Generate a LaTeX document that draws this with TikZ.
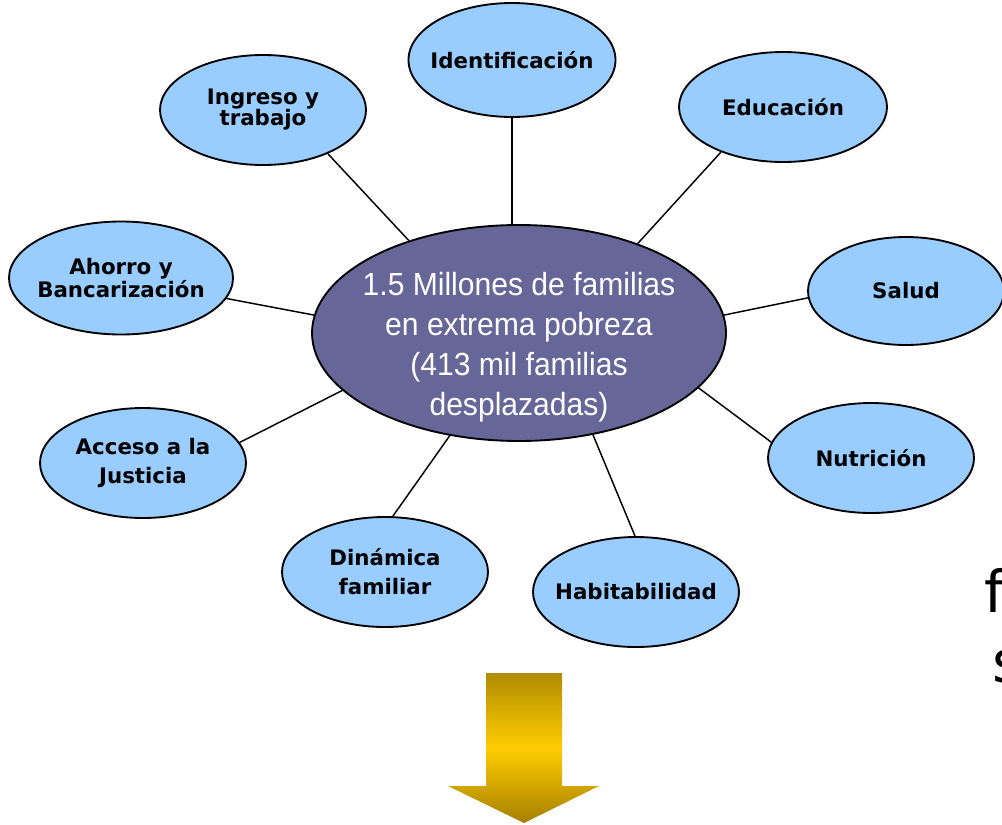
\documentclass[tikz,border=0pt]{standalone}
\usepackage{fontspec}
\usetikzlibrary{shapes.geometric}
\newfontfamily\labelfont{DejaVu Sans}
\newfontfamily\centerfont[FakeStretch=0.94]{Liberation Sans}
\definecolor{satblue}{RGB}{153,204,255}
\definecolor{hubviolet}{RGB}{102,102,153}
\definecolor{golddark}{RGB}{176,140,0}
\definecolor{goldlight}{RGB}{255,204,0}
\definecolor{goldlow}{RGB}{166,128,0}
\tikzset{
  sat/.style={ellipse, draw=black, line width=1.4pt, fill=satblue,
    inner xsep=-30pt, inner ysep=0pt, align=center,
    font=\labelfont\bfseries\fontsize{16}{15.75}\selectfont},
  satwide/.style={sat, font=\labelfont\bfseries\fontsize{16}{21.75}\selectfont},
  hub/.style={ellipse, draw=black, line width=1.4pt, fill=hubviolet,
    inner sep=0pt, minimum width=310.5pt, minimum height=162pt},
  hubtext/.style={align=center, text=white, inner sep=0pt,
    font=\centerfont\fontsize{24}{30}\selectfont},
  link/.style={draw=black, line width=1.1pt},
  bigletter/.style={anchor=base west, inner sep=0pt,
    font=\labelfont\fontsize{43.5}{52}\selectfont}
}
\begin{document}
\begin{tikzpicture}[x=0.75pt,y=-0.75pt]
\useasboundingbox[fill=white] (0,0) rectangle (1002,824);

\node[hub] (c) at (519,333) {};
\node[hubtext] (ct) at (519,347) {1.5 Millones de familias\\en extrema pobreza\\(413 mil familias\\desplazadas)};

\node[sat, minimum width=155.25pt, minimum height=85.5pt] (ident) at (512,60) {Identificación};
\node[sat, minimum width=154.5pt, minimum height=82.5pt] (ing) at (263,110) {Ingreso y\\trabajo};
\node[sat, minimum width=156pt, minimum height=82.5pt] (edu) at (783,107) {Educación};
\node[sat, minimum width=168pt, minimum height=84.75pt] (ahorro) at (121,278) {Ahorro y\\Bancarización};
\node[sat, minimum width=147pt, minimum height=81pt] (salud) at (906,291) {Salud};
\node[satwide, minimum width=154.5pt, minimum height=82.5pt] (acc) at (143,463) {Acceso a la\\Justicia};
\node[sat, minimum width=154.5pt, minimum height=82.5pt] (nut) at (871,458) {Nutrición};
\node[satwide, minimum width=154.5pt, minimum height=82.5pt] (din) at (385,572) {Dinámica\\familiar};
\node[sat, minimum width=154.5pt, minimum height=82.5pt] (hab) at (636,592) {Habitabilidad};

\draw[link] (ing.-34.5) -- (c.140);
\draw[link] (ident.south) -- (ident.south |- c.north);
\draw[link] (edu.216.6) -- (c.37.8);
\draw[link] (salud.184) -- (c.5);
\draw[link] (ahorro.-11) -- (c.175.4);
\draw[link] (acc.12) -- (c.198);
\draw[link] (din.82) -- (c.236.4);
\draw[link] (hab.91) -- (c.306);
\draw[link] (nut.171) -- (c.343.3);

\shade[top color=golddark, bottom color=goldlow, middle color=goldlight]
  (486,673) -- (562,673) -- (562,786) -- (599,786) -- (524,823)
  -- (448,786) -- (486,786) -- cycle;

\node[bigletter] (lf) at (984,612) {f};
\node[bigletter] (ls) at (992,682) {s};
\end{tikzpicture}
\end{document}
